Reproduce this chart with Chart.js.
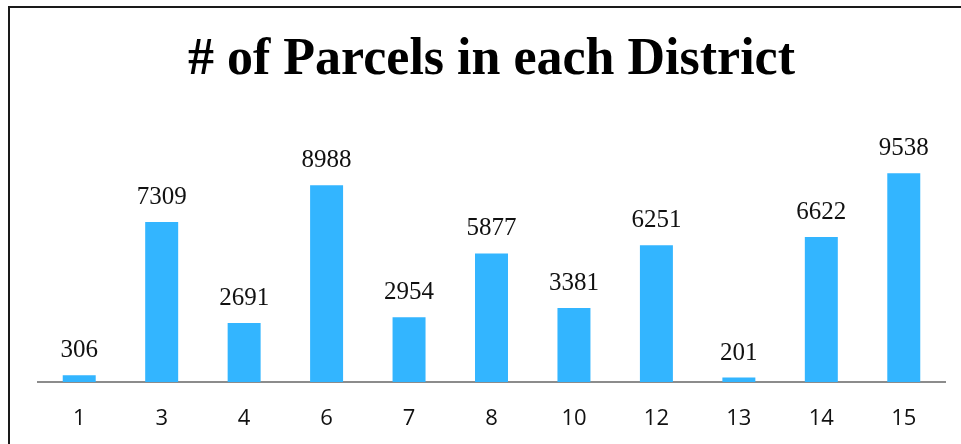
<!DOCTYPE html>
<html>
<head>
<meta charset="utf-8">
<script src="https://cdn.jsdelivr.net/npm/chart.js@4"></script>
<style>
html,body{margin:0;padding:0;background:#fff;overflow:hidden;}
#wrap{position:absolute;left:0;top:0;width:961px;height:444px;}
#frame{position:absolute;left:8px;top:6px;width:1100px;height:600px;border:2px solid #1a1a1a;box-sizing:border-box;}
</style>
</head>
<body>
<div id="frame"></div>
<div id="wrap"><canvas id="c" width="961" height="444"></canvas></div>
<script>
const districts = ['1','3','4','6','7','8','10','12','13','14','15'];
const parcels = [306, 7309, 2691, 8988, 2954, 5877, 3381, 6251, 201, 6622, 9538];
const titleText = '# of Parcels in each District';

const valueLabels = {
  id: 'valueLabels',
  afterDatasetsDraw(chart) {
    const ctx = chart.ctx;
    const meta = chart.getDatasetMeta(0);
    ctx.save();
    ctx.font = '25px "Liberation Serif", serif';
    ctx.fillStyle = '#111';
    ctx.textAlign = 'center';
    ctx.textBaseline = 'alphabetic';
    meta.data.forEach((bar, i) => {
      ctx.fillText(String(chart.data.datasets[0].data[i]), bar.x, bar.y - 18);
    });
    ctx.restore();
  }
};

new Chart(document.getElementById('c'), {
  type: 'bar',
  data: {
    labels: districts,
    datasets: [{
      data: parcels,
      backgroundColor: '#33B5FF',
      borderWidth: 0,
      barPercentage: 0.4,
      categoryPercentage: 1.0
    }]
  },
  options: {
    responsive: false,
    animation: false,
    layout: { padding: { left: 38, right: 16, top: 0, bottom: 0 } },
    plugins: {
      legend: { display: false },
      tooltip: { enabled: false },
      title: {
        display: true,
        text: titleText,
        color: '#000',
        font: { family: '"Liberation Serif", serif', size: 52, weight: 'bold' },
        padding: { top: 29, bottom: 28 }
      }
    },
    scales: {
      x: {
        grid: { display: false },
        border: { display: true, color: '#8c8c8c', width: 2 },
        ticks: { color: '#111', font: { family: '"Open Sans", sans-serif', size: 22 }, padding: 16 },
        afterFit(scale) { scale.height = 62; }
      },
      y: {
        display: false,
        min: 0,
        max: 12000
      }
    }
  },
  plugins: [valueLabels]
});
</script>
</body>
</html>
